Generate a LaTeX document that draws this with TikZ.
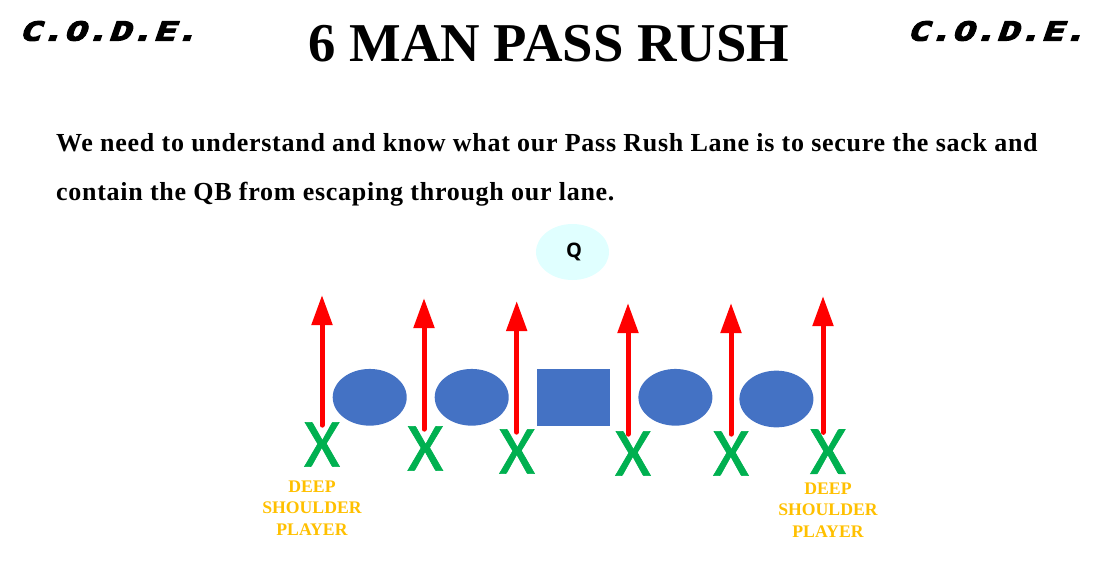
\documentclass[tikz,border=0pt]{standalone}
\usepackage{fontspec}
\usepackage{xcolor}
\setmainfont{Liberation Serif}
\newfontfamily\codefont[FakeBold=5,FakeStretch=1.43,FakeSlant=0.35]{DejaVu Sans Mono Bold}
\newfontfamily\xfont[FakeBold=1]{Carlito}
\newfontfamily\qfont{Open Sans}
\newfontfamily\introfont[LetterSpace=2.8]{Liberation Serif Bold}
\usetikzlibrary{arrows.meta,positioning,shapes.geometric}
\definecolor{CodeBlue}{HTML}{4472C4}
\definecolor{CodeGreen}{HTML}{00B050}
\definecolor{CodeGold}{HTML}{FFC000}
\definecolor{CodeRed}{HTML}{FF0000}
\definecolor{CodeCyan}{HTML}{E0FFFF}
\tikzset{
  lineman/.style={ellipse,fill=CodeBlue,inner sep=0pt,minimum width=74pt,minimum height=56.7pt},
  center/.style={rectangle,fill=CodeBlue,inner sep=0pt,minimum width=73.7pt,minimum height=56.7pt},
  rusher/.style={text=CodeGreen,inner sep=0pt,font=\xfont\fontsize{69}{69}\selectfont},
  logo/.style={inner sep=0pt,font=\codefont\fontsize{26}{26}\selectfont},
  tag/.style={text=CodeGold,align=center,inner sep=0pt,font=\bfseries\fontsize{17.7}{21.7}\selectfont},
  lane/.style={-{Triangle[length=30pt,width=20pt]},line width=5pt,line cap=round,draw=CodeRed,shorten <=-3pt}
}
\begin{document}
\begin{tikzpicture}[x=1pt,y=-1pt,node distance=27.6pt]
  \useasboundingbox (0,0) rectangle (1096,565);
  \node[logo] (logoL) at (108,31) {C.O.D.E.};
  \node[logo] (logoR) at (996,31) {C.O.D.E.};
  \node[inner sep=0pt,font=\bfseries\fontsize{54.7}{55}\selectfont] (title) at (549,44) {6 MAN PASS RUSH};
  \node[inner sep=0pt,anchor=west,align=left,font=\introfont\fontsize{26}{49}\selectfont] (intro) at (56,170)
    {We need to understand and know what our Pass Rush Lane is to secure the sack and\\
     contain the QB from escaping through our lane.};
  \node[ellipse,fill=CodeCyan,inner sep=0pt,minimum width=73pt,minimum height=56pt,
    font=\qfont\bfseries\fontsize{20}{20}\selectfont] (qb) at (572.5,252) {\hspace{3pt}\raisebox{-2pt}{Q}};
  % offensive line
  \node[lineman] (e1) at (369.7,397.3) {};
  \node[lineman,right=of e1] (e2) {};
  \node[center,right=of e2] (c) {};
  \node[lineman,right=of c] (e3) {};
  \node[lineman,right=of e3,xshift=-1pt,yshift=-1.7pt] (e4) {};
  % rushers
  \node[rusher] (x1) at (322,444.5) {X};
  \node[rusher] (x2) at (425.3,448.5) {X};
  \node[rusher] (x3) at (517,451.5) {X};
  \node[rusher] (x4) at (633,453.5) {X};
  \node[rusher] (x5) at (731,453.5) {X};
  \node[rusher] (x6) at (828,451.7) {X};
  \coordinate (t1) at (322,295);
  \coordinate (t2) at (424,298);
  \coordinate (t3) at (516.7,301);
  \coordinate (t4) at (628,303);
  \coordinate (t5) at (731,303);
  \coordinate (t6) at (823,296);
  \draw[lane] (x1.north -| t1)--(t1);
  \draw[lane] (x2.north -| t2)--(t2);
  \draw[lane] (x3.north -| t3)--(t3);
  \draw[lane] (x4.north -| t4)--(t4);
  \draw[lane] (x5.north -| t5)--(t5);
  \draw[lane] (x6.north -| t6)--(t6);
  \node[tag] (tagL) at (312,508) {DEEP\\SHOULDER\\PLAYER};
  \node[tag] (tagR) at (828,510) {DEEP\\SHOULDER\\PLAYER};
\end{tikzpicture}
\end{document}
